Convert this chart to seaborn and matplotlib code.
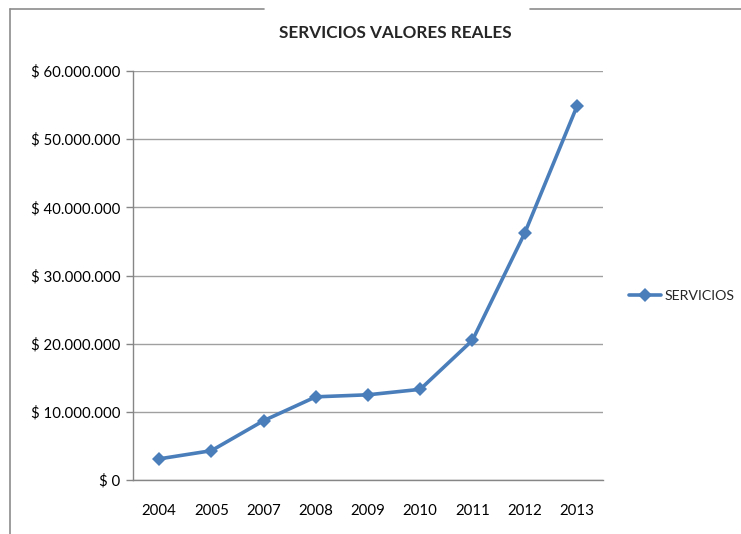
import matplotlib
matplotlib.use("Agg")
import matplotlib.pyplot as plt
import matplotlib.ticker as mticker
from matplotlib import font_manager
import seaborn as sns
import pandas as pd

years = ["2004", "2005", "2007", "2008", "2009", "2010", "2011", "2012", "2013"]
servicios = [3.1e6, 4.3e6, 8.7e6, 12.2e6, 12.5e6, 13.3e6, 20.5e6, 36.2e6, 54.8e6]
series_name = "SERVICIOS"
title = "SERVICIOS VALORES REALES"

sns.set_theme(style="white")
names = {f.name for f in font_manager.fontManager.ttflist}
fam = "Liberation Sans Narrow" if "Liberation Sans Narrow" in names else "Lato"
plt.rcParams["font.family"] = [fam, "DejaVu Sans"]

df = pd.DataFrame({"Año": years, "Valor": servicios})

fig = plt.figure(figsize=(7.41, 5.34), dpi=100)
ax = fig.add_axes([133/741, 1-480/534, (603-133)/741, (480-71)/534])
color = "#4A7EBB"
sns.lineplot(data=df, x="Año", y="Valor", ax=ax, color=color, linewidth=2.6,
             marker="D", markersize=7, markeredgewidth=0, label=series_name)

ax.set_xlim(-0.5, len(years)-0.5)
ax.set_ylim(0, 60e6)
ax.yaxis.set_major_locator(mticker.MultipleLocator(10e6))
ax.yaxis.set_major_formatter(mticker.FuncFormatter(
    lambda v, p: "$ " + f"{int(round(v)):,}".replace(",", ".")))
ax.set_xticks(range(len(years)))
ax.set_xticklabels(years)
ax.set_xticks([i-0.5 for i in range(len(years)+1)], minor=True)
ax.tick_params(axis="x", which="major", length=0, pad=17, labelsize=10.8, colors="#000000")
ax.tick_params(axis="x", which="minor", length=5, color="#868686", width=1)
ax.tick_params(axis="y", which="major", length=5, color="#868686", width=1, pad=4,
               labelsize=10.8, labelcolor="#000000", left=True)
ax.grid(axis="y", color="#A0A0A0", linewidth=1)
ax.set_axisbelow(True)
for s in ["top", "right"]:
    ax.spines[s].set_visible(False)
for s in ["left", "bottom"]:
    ax.spines[s].set_color("#868686")
    ax.spines[s].set_linewidth(1)
ax.set_xlabel("")
ax.set_ylabel("")

leg = ax.legend(loc="center left", bbox_to_anchor=(626/741, 1-296/534),
                bbox_transform=fig.transFigure, frameon=False, fontsize=10.2,
                handlelength=2.3, handletextpad=0.25, borderpad=0.2, borderaxespad=0)

fig.text(395/741, 1-33/534, title, ha="center", va="center", fontsize=12.3,
         fontweight="bold")

# partial chart frame
fig.add_artist(plt.Line2D([10/741, 10/741], [0, 1-9/534], transform=fig.transFigure,
                          color="#8C8C8C", linewidth=1.2))
fig.add_artist(plt.Line2D([10/741, 264/741], [1-9/534, 1-9/534], transform=fig.transFigure,
                          color="#8C8C8C", linewidth=1.2))
fig.add_artist(plt.Line2D([530/741, 1], [1-9/534, 1-9/534], transform=fig.transFigure,
                          color="#8C8C8C", linewidth=1.2))

fig.savefig("out.png", dpi=100, facecolor="white")
